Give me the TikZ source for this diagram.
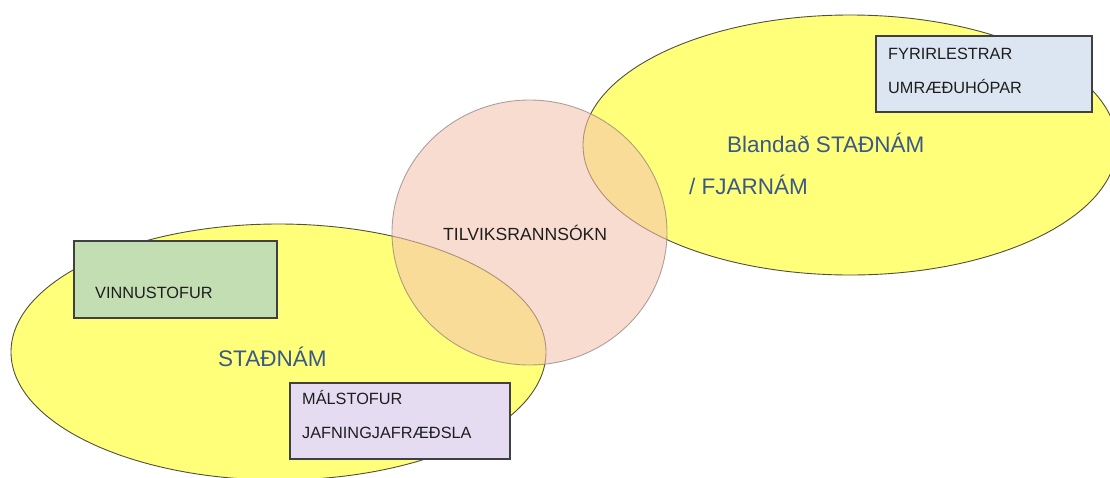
\documentclass[tikz,border=0pt]{standalone}
\usepackage{fontspec}
\setmainfont{Liberation Sans}
\usetikzlibrary{shapes.geometric}
\definecolor{ellfill}{RGB}{255,255,122}
\definecolor{ellline}{RGB}{80,80,60}
\definecolor{circfill}{RGB}{246,194,173}
\definecolor{circline}{RGB}{120,110,110}
\definecolor{greenbox}{RGB}{196,222,179}
\definecolor{bluebox}{RGB}{220,230,242}
\definecolor{purplebox}{RGB}{229,220,242}
\definecolor{boxline}{RGB}{64,64,64}
\definecolor{labelblue}{RGB}{59,89,135}
\definecolor{textdark}{RGB}{30,30,30}
\begin{document}
\begin{tikzpicture}[x=1pt,y=-1pt,
  blob/.style={ellipse, draw=ellline, line width=0.9pt, fill=ellfill, inner sep=0pt},
  circ/.style={ellipse, draw=circline, draw opacity=0.6, line width=0.9pt, fill=circfill, fill opacity=0.57, inner sep=0pt},
  infobox/.style={rectangle, draw=boxline, line width=1.2pt, inner sep=0pt},
  boxtext/.style={anchor=base west, inner sep=0pt, text=textdark, font=\fontsize{16.3pt}{18pt}\selectfont},
  midtext/.style={anchor=base west, inner sep=0pt, text=textdark, font=\fontsize{17.6pt}{20pt}\selectfont},
  bigtext/.style={anchor=base west, inner sep=0pt, text=labelblue, font=\fontsize{22.5pt}{26pt}\selectfont}]
\useasboundingbox (0,0) rectangle (1110,477);
\fill[white] (0,0) rectangle (1110,477);
\clip (0,0) rectangle (1110,477);
\node[blob, minimum width=535pt, minimum height=256pt] (left) at (278.5,352) {};
\node[blob, minimum width=534pt, minimum height=260pt] (right) at (850,145) {};
\node[circ, minimum width=275pt, minimum height=265pt] (mid) at (529.5,232.5) {};
\node[infobox, fill=greenbox, minimum width=203pt, minimum height=77pt] (green) at (175.5,279.5) {};
\node[infobox, fill=bluebox, minimum width=216pt, minimum height=76pt] (blue) at (984,74) {};
\node[infobox, fill=purplebox, minimum width=220pt, minimum height=76pt] (purple) at (400,421) {};
\node[boxtext] (t1) at (95,298) {VINNUSTOFUR};
\node[boxtext] (t2) at (888,59) {FYRIRLESTRAR};
\node[boxtext] (t3) at (888,93) {UMRÆÐUHÓPAR};
\node[boxtext] (t4) at (302,404) {MÁLSTOFUR};
\node[boxtext] (t5) at (302,438) {JAFNINGJAFRÆÐSLA};
\node[midtext] (t6) at (443,240) {TILVIKSRANNSÓKN};
\node[bigtext] (t7) at (218,366) {STAÐNÁM};
\node[bigtext] (t8) at (727,152.5) {Blandað STAÐNÁM};
\node[bigtext] (t9) at (689,194.5) {/ FJARNÁM};
\end{tikzpicture}
\end{document}
